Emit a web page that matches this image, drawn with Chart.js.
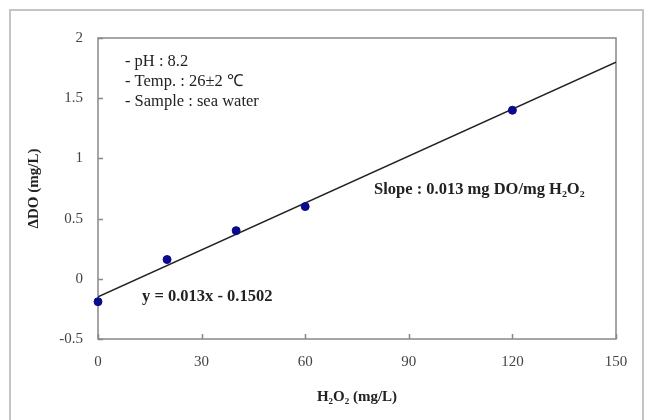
<!DOCTYPE html>
<html>
<head>
<meta charset="utf-8">
<script src="https://cdn.jsdelivr.net/npm/chart.js@4/dist/chart.umd.min.js"></script>
<style>
html,body{margin:0;padding:0;background:#fff;}
#wrap{width:648px;height:420px;position:relative;}
</style>
</head>
<body>
<div id="wrap"><canvas id="c" width="648" height="420"></canvas></div>
<script>
// ---- data ----
const h2o2 = [0, 20, 40, 60, 120];
const deltaDO = [-0.19, 0.16, 0.40, 0.60, 1.40];
const trendX = [0, 150];
const trendY = [-0.1502, 1.7998];
const xTicks = [0, 30, 60, 90, 120, 150];
const yTicks = [-0.5, 0, 0.5, 1, 1.5, 2];
const xTitle = 'H\u2082O\u2082 (mg/L)';
const yTitle = '\u0394DO (mg/L)';
const conditions = ['- pH : 8.2', '- Temp. : 26\u00B12 \u2103', '- Sample : sea water'];
const slopeText = 'Slope : 0.013 mg DO/mg H\u2082O\u2082';
const eqText = 'y = 0.013x - 0.1502';

const serif = '"Liberation Serif", "Times New Roman", serif';

const decor = {
  id: 'decor',
  beforeDraw(chart) {
    const ctx = chart.ctx;
    ctx.save();
    ctx.strokeStyle = '#c4c4c4';
    ctx.lineWidth = 2;
    ctx.strokeRect(10, 10, 633, 420);
    ctx.restore();
  },
  beforeDatasetsDraw(chart) {
    const {ctx, chartArea: a, scales} = chart;
    ctx.save();
    ctx.strokeStyle = '#888888';
    ctx.lineWidth = 1.5;
    ctx.strokeRect(a.left, a.top, a.right - a.left, a.bottom - a.top);
    ctx.beginPath();
    scales.x.ticks.forEach(t => {
      const px = Math.round(scales.x.getPixelForValue(t.value)) + 0.5;
      ctx.moveTo(px, a.bottom); ctx.lineTo(px, a.bottom - 5);
    });
    scales.y.ticks.forEach(t => {
      const py = Math.round(scales.y.getPixelForValue(t.value)) + 0.5;
      ctx.moveTo(a.left, py); ctx.lineTo(a.left + 5, py);
    });
    ctx.stroke();
    ctx.restore();
  },
  afterDatasetsDraw(chart) {
    const {ctx, chartArea: a} = chart;
    ctx.save();
    ctx.fillStyle = '#222';
    ctx.textBaseline = 'middle';
    ctx.textAlign = 'left';
    ctx.font = '16.5px ' + serif;
    conditions.forEach((s, i) => ctx.fillText(s, a.left + 27, a.top + 24 + i * 20));
    ctx.font = 'bold 16.5px ' + serif;
    ctx.fillText(slopeText, a.left + 276, a.top + 152);
    ctx.fillText(eqText, a.left + 44, a.top + 259);
    ctx.restore();
  }
};

new Chart(document.getElementById('c'), {
  type: 'scatter',
  data: {
    datasets: [
      {
        label: 'trend',
        data: trendX.map((x, i) => ({x, y: trendY[i]})),
        showLine: true,
        borderColor: '#222',
        borderWidth: 1.6,
        pointRadius: 0,
        order: 2
      },
      {
        label: 'ΔDO',
        data: h2o2.map((x, i) => ({x, y: deltaDO[i]})),
        backgroundColor: '#0a0a8c',
        borderColor: '#0a0a8c',
        pointRadius: 4,
        clip: false,
        order: 1
      }
    ]
  },
  plugins: [decor],
  options: {
    responsive: false,
    animation: false,
    layout: {padding: {left: 0, top: 38, right: 32, bottom: 0}},
    plugins: {legend: {display: false}, tooltip: {enabled: false}},
    scales: {
      x: {
        type: 'linear', min: 0, max: 150,
        afterBuildTicks(s) { s.ticks = xTicks.map(v => ({value: v})); },
        afterFit(s) { s.height = 81; },
        grid: {display: false, drawTicks: false},
        border: {display: false},
        ticks: {padding: 14, color: '#444', font: {family: serif, size: 15},
                callback: v => String(v)},
        title: {display: true, text: xTitle, color: '#222', padding: {top: 0, bottom: 14},
                font: {family: serif, size: 15, weight: 'bold'}}
      },
      y: {
        type: 'linear', min: -0.5, max: 2,
        afterBuildTicks(s) { s.ticks = yTicks.map(v => ({value: v})); },
        afterFit(s) { s.width = 98; },
        grid: {display: false, drawTicks: false},
        border: {display: false},
        ticks: {padding: 15, color: '#444', font: {family: serif, size: 15},
                callback: v => String(v)},
        title: {display: true, text: yTitle, color: '#222', padding: {top: 25, bottom: 0},
                font: {family: serif, size: 15, weight: 'bold'}}
      }
    }
  }
});
</script>
</body>
</html>
